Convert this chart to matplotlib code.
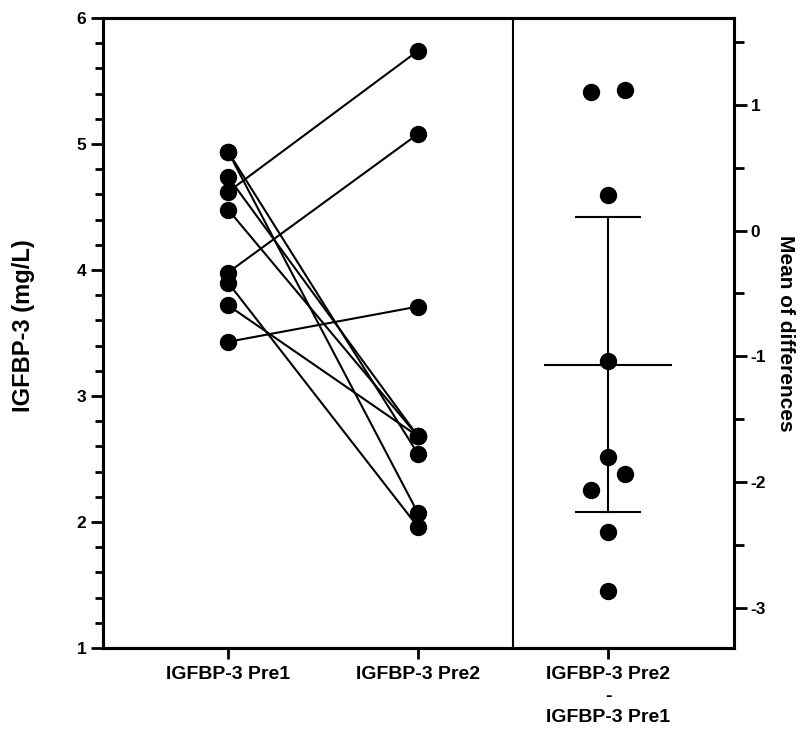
import matplotlib.pyplot as plt
import numpy as np
from matplotlib.ticker import MultipleLocator

plt.rcParams['font.family'] = ['Liberation Sans', 'DejaVu Sans']
plt.rcParams['font.weight'] = 'bold'
plt.rcParams['axes.unicode_minus'] = False

# paired IGFBP-3 values (mg/L), one entry per subject
pre1 = [4.62, 3.98, 3.43, 3.72, 3.90, 4.48, 4.74, 4.94, 4.94]
pre2 = [5.74, 5.08, 3.71, 2.68, 1.96, 2.68, 2.68, 2.54, 2.07]
categories = ["IGFBP-3 Pre1", "IGFBP-3 Pre2", "IGFBP-3 Pre2\n-\nIGFBP-3 Pre1"]

diffs = np.array(pre2) - np.array(pre1)
n = len(diffs)
mean_diff = diffs.mean()
t_crit = 2.306  # t(0.975, df=8)
ci = t_crit * diffs.std(ddof=1) / np.sqrt(n)

# horizontal nudge so overlapping dots in the difference column stay visible
nudge = [0.088, -0.088, 0, 0, 0.088, 0, -0.088, 0, 0]

fig = plt.figure(figsize=(8.01, 7.29), dpi=100)
ax = fig.add_axes([0.1286, 0.1111, 0.7878, 0.8642])
ax2 = ax.twinx()

ms = 11.5
for a, b in zip(pre1, pre2):
    ax.plot([0, 1], [a, b], color='black', lw=1.5, zorder=2)
ax.plot(np.zeros(n), pre1, 'o', color='black', ms=ms, zorder=3)
ax.plot(np.ones(n), pre2, 'o', color='black', ms=ms, zorder=3)

ax.axvline(1.5, color='black', lw=1.5)

xd = 2 + np.array(nudge)
ax2.plot(xd, diffs, 'o', color='black', ms=ms, zorder=3)
ax2.plot([2, 2], [mean_diff - ci, mean_diff + ci], color='black', lw=1.5)
ax2.plot([1.67, 2.33], [mean_diff, mean_diff], color='black', lw=1.5)
ax2.plot([1.83, 2.17], [mean_diff - ci] * 2, color='black', lw=1.5)
ax2.plot([1.83, 2.17], [mean_diff + ci] * 2, color='black', lw=1.5)

ax.set_xlim(-0.658, 2.663)
ax.set_ylim(1, 6)
ax2.set_ylim(-3.32, 1.69)

ax.set_xticks([0, 1, 2])
ax.set_xticklabels(categories, fontsize=14, fontweight='bold', linespacing=1.35)
ax.yaxis.set_major_locator(MultipleLocator(1))
ax.yaxis.set_minor_locator(MultipleLocator(0.2))
ax.tick_params(axis='y', which='major', length=9, width=2, labelsize=12.5, pad=3)
ax.tick_params(axis='y', which='minor', length=6, width=2)
ax.tick_params(axis='x', length=8, width=2, pad=5)

ax2.yaxis.set_major_locator(MultipleLocator(1))
ax2.yaxis.set_minor_locator(MultipleLocator(0.5))
ax2.tick_params(axis='y', which='major', length=9, width=2, labelsize=12.5, pad=3)
ax2.tick_params(axis='y', which='minor', length=7, width=2)

for t in ax.get_yticklabels() + ax2.get_yticklabels():
    t.set_fontweight('bold')

for s in ax.spines.values():
    s.set_linewidth(2.2)
ax.spines['right'].set_visible(False)
for s in ax2.spines.values():
    s.set_linewidth(2.2)

fig.text(24 / 801, 0.554, "IGFBP-3 (mg/L)", fontsize=17, fontweight='bold',
         rotation=90, ha='center', va='center')
fig.text(786 / 801, 0.543, "Mean of differences", fontsize=15, fontweight='bold',
         rotation=-90, ha='center', va='center')

fig.savefig("out.png", dpi=100)
